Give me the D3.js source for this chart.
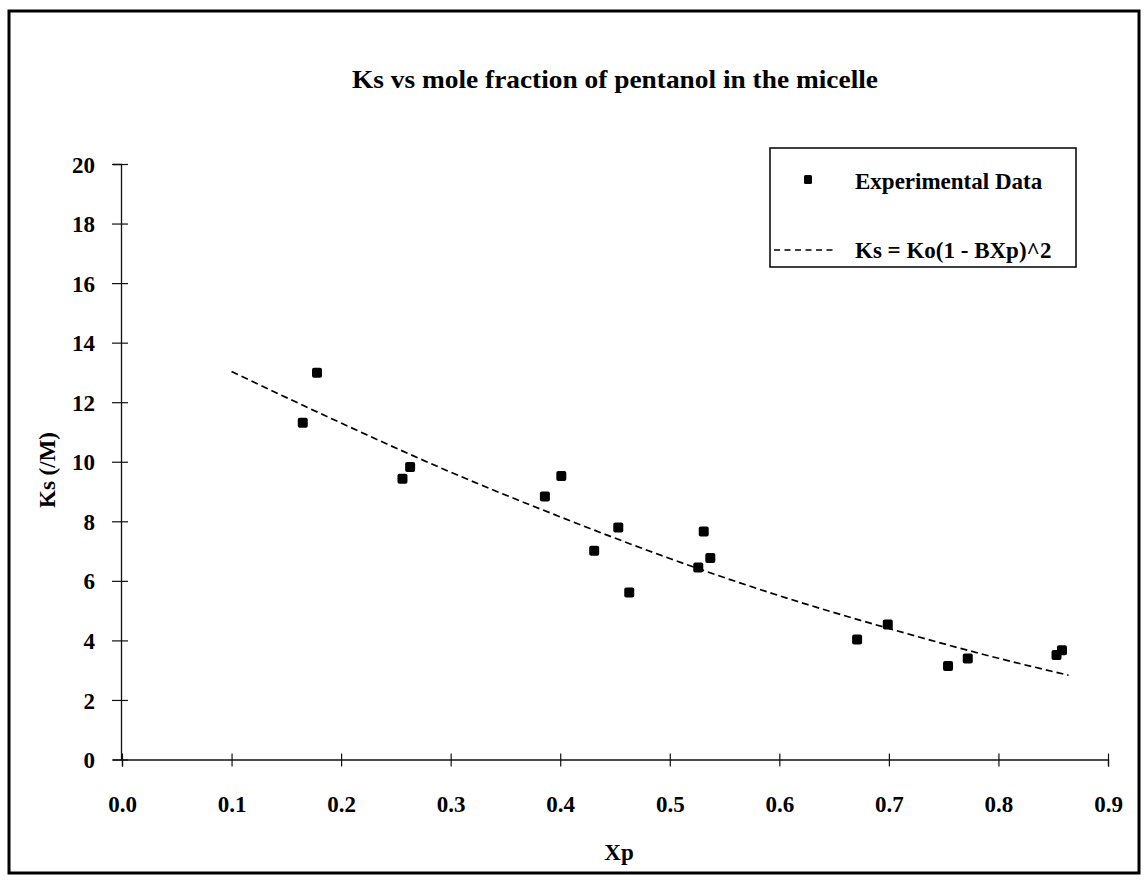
<!DOCTYPE html>
<html lang="en">
<head>
<meta charset="UTF-8" />
<title>Ks vs mole fraction of pentanol in the micelle</title>
<script src="https://d3js.org/d3.v7.min.js"></script>
<style>
  body { margin: 0; background: #fff; }
  svg { display: block; font-family: "Liberation Serif", "Times New Roman", serif; }
</style>
</head>
<body>
<div id="chart"></div>
<script>
  // experimental points
  const xp = [0.165, 0.178, 0.256, 0.263, 0.386, 0.401, 0.431, 0.453, 0.463,
              0.526, 0.531, 0.537, 0.671, 0.699, 0.754, 0.772, 0.853, 0.858];
  const ks = [11.31, 12.99, 9.43, 9.82, 8.83, 9.52, 7.01, 7.79, 5.61,
              6.45, 7.66, 6.77, 4.03, 4.53, 3.14, 3.39, 3.51, 3.67];

  // fitted curve Ks = Ko(1 - BXp)^2
  const fitXp = [0.10, 0.20, 0.30, 0.40, 0.50, 0.60, 0.70, 0.80, 0.864];
  const fitKs = [13.03, 11.3, 9.65, 8.15, 6.75, 5.5, 4.4, 3.4, 2.83];

  const xTicks = [0, 0.1, 0.2, 0.3, 0.4, 0.5, 0.6, 0.7, 0.8, 0.9];
  const yTicks = [0, 2, 4, 6, 8, 10, 12, 14, 16, 18, 20];
  const legendLabels = ["Experimental Data", "Ks = Ko(1 - BXp)^2"];

  const width = 1146, height = 882;
  const svg = d3.select("#chart").append("svg")
    .attr("width", width).attr("height", height);

  // outer frame
  svg.append("rect")
    .attr("x", 9).attr("y", 11)
    .attr("width", 1130).attr("height", 862)
    .attr("fill", "none").attr("stroke", "#000").attr("stroke-width", 3);

  const x = d3.scaleLinear().domain([0, 0.9]).range([122, 1108]);
  const y = d3.scaleLinear().domain([0, 20]).range([759.5, 164]);

  // title
  svg.append("text")
    .attr("x", 615).attr("y", 88)
    .attr("text-anchor", "middle")
    .attr("font-size", 26).attr("font-weight", "bold")
    .attr("textLength", 526).attr("lengthAdjust", "spacingAndGlyphs")
    .text("Ks vs mole fraction of pentanol in the micelle");

  // x axis
  const gx = svg.append("g")
    .attr("transform", `translate(0,${y(0)})`)
    .call(d3.axisBottom(x).tickValues(xTicks).tickFormat(d3.format(".1f")).tickSizeOuter(0).tickSize(7));
  gx.select(".domain").attr("stroke", "#111").attr("stroke-width", 1.3);
  gx.selectAll(".tick line").attr("y1", -6).attr("y2", 7).attr("stroke", "#111").attr("stroke-width", 1.2);
  gx.selectAll(".tick text")
    .attr("y", 0).attr("dy", 0)
    .attr("transform", "translate(0,52)")
    .attr("font-size", 23).attr("font-weight", "bold")
    .attr("font-family", "Liberation Serif, serif").attr("fill", "#000");

  // y axis
  const gy = svg.append("g")
    .attr("transform", `translate(${x(0) - 1},0)`)
    .call(d3.axisLeft(y).tickValues(yTicks).tickSizeOuter(0).tickSize(8));
  gy.select(".domain").attr("stroke", "#111").attr("stroke-width", 1.3);
  gy.selectAll(".tick line").attr("x1", 7).attr("x2", -9).attr("stroke", "#111").attr("stroke-width", 1.2);
  gy.selectAll(".tick text")
    .attr("x", -26).attr("dy", "0.35em")
    .attr("font-size", 23).attr("font-weight", "bold")
    .attr("font-family", "Liberation Serif, serif").attr("fill", "#000");

  // axis titles
  svg.append("text")
    .attr("x", 619).attr("y", 860)
    .attr("text-anchor", "middle")
    .attr("font-size", 23).attr("font-weight", "bold")
    .text("Xp");

  svg.append("text")
    .attr("transform", "translate(55,470) rotate(-90)")
    .attr("text-anchor", "middle")
    .attr("font-size", 23).attr("font-weight", "bold")
    .text("Ks  (/M)");

  // fitted curve
  const line = d3.line()
    .x((d, i) => x(fitXp[i]))
    .y(d => y(d))
    .curve(d3.curveMonotoneX);

  svg.append("path")
    .datum(fitKs)
    .attr("d", line)
    .attr("fill", "none")
    .attr("stroke", "#000")
    .attr("stroke-width", 1.7)
    .attr("stroke-dasharray", "7,4");

  // experimental points
  const s = 10;
  svg.append("g").selectAll("rect")
    .data(ks)
    .join("rect")
    .attr("x", (d, i) => x(xp[i]) - s / 2)
    .attr("y", d => y(d) - s / 2)
    .attr("width", s).attr("height", s)
    .attr("rx", 2)
    .attr("fill", "#000");

  // legend
  const lg = svg.append("g");
  lg.append("rect")
    .attr("x", 770).attr("y", 148)
    .attr("width", 306).attr("height", 119)
    .attr("fill", "#fff").attr("stroke", "#000").attr("stroke-width", 1.5);
  lg.append("rect")
    .attr("x", 804).attr("y", 175)
    .attr("width", 8).attr("height", 9).attr("rx", 1.5)
    .attr("fill", "#000");
  lg.append("line")
    .attr("x1", 774).attr("x2", 836)
    .attr("y1", 250).attr("y2", 250)
    .attr("stroke", "#000").attr("stroke-width", 1.3)
    .attr("stroke-dasharray", "6,4.5");
  lg.selectAll("text.lab")
    .data(legendLabels)
    .join("text")
    .attr("class", "lab")
    .attr("x", 855)
    .attr("y", (d, i) => i === 0 ? 189 : 258)
    .attr("font-size", 23).attr("font-weight", "bold")
    .text(d => d);
</script>
</body>
</html>
